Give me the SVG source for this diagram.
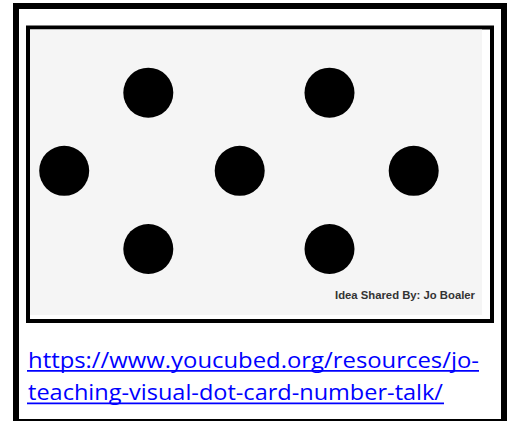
<svg xmlns="http://www.w3.org/2000/svg" width="511" height="421" viewBox="0 0 511 421">
<style>
.dot{fill:#000}
.link{font-family:"Open Sans","Liberation Sans",sans-serif;font-size:21px;fill:#0000ff}
.ul{stroke:#0000ff;stroke-width:1.8}
.credit{font-family:"Liberation Sans",Arial,sans-serif;font-size:10px;font-weight:bold;fill:#333}
</style>
<rect x="0" y="0" width="511" height="421" fill="#fff"/>
<g id="outer-frame"><rect x="16" y="6" width="488" height="416" fill="#fff" stroke="#000" stroke-width="6"/></g>
<g id="card">
<rect x="28" y="27.5" width="464" height="293.5" fill="#fff" stroke="#000" stroke-width="4"/>
<rect x="30" y="29.5" width="452" height="285.5" fill="#f5f5f5"/>
</g>
<g id="dots">
<circle id="dot1" class="dot" cx="148.3" cy="92.7" r="25"/>
<circle id="dot2" class="dot" cx="329.5" cy="92.7" r="25"/>
<circle id="dot3" class="dot" cx="64.2" cy="170.8" r="25"/>
<circle id="dot4" class="dot" cx="239.7" cy="170.8" r="25"/>
<circle id="dot5" class="dot" cx="413.7" cy="170.8" r="25"/>
<circle id="dot6" class="dot" cx="148.3" cy="249" r="25"/>
<circle id="dot7" class="dot" cx="329.5" cy="249" r="25"/>
</g>
<g id="credit"><text class="credit" x="335" y="298.5" textLength="140" lengthAdjust="spacingAndGlyphs">Idea Shared By: Jo Boaler</text></g>
<g id="link">
<text class="link" x="28" y="367.5" textLength="451" lengthAdjust="spacingAndGlyphs">https://www.youcubed.org/resources/jo-</text>
<line class="ul" x1="27" y1="370.8" x2="479" y2="370.8"/>
<text class="link" x="28" y="400" textLength="415" lengthAdjust="spacingAndGlyphs">teaching-visual-dot-card-number-talk/</text>
<line class="ul" x1="27" y1="403.3" x2="444" y2="403.3"/>
</g>
</svg>
